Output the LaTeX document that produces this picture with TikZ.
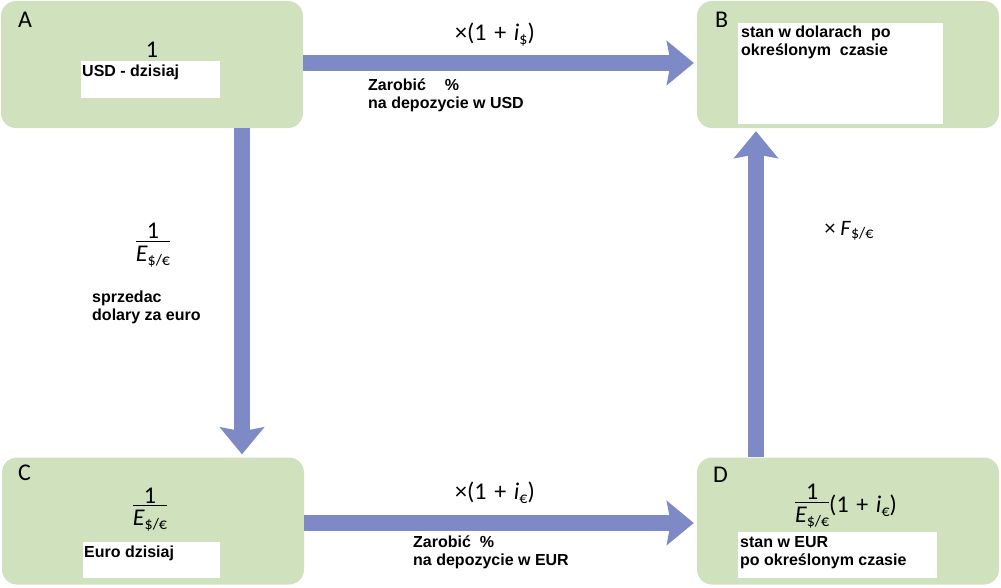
\documentclass[tikz,border=0pt]{standalone}
\usepackage{fontspec}
\setmainfont{Liberation Sans}
\newfontfamily\carlito{Carlito}
\usepackage{tikz}
\usetikzlibrary{arrows.meta,positioning,calc}
\definecolor{ParityGreen}{HTML}{CFE2BD}
\definecolor{ParityBlue}{HTML}{7E8AC5}
\newcommand\lowsub[1]{\raisebox{-0.35ex}{\fontsize{16}{16}\selectfont\upshape #1}}
\newcommand\plussign{\hspace{0.32em}+\hspace{0.32em}}
\newcommand\invrate{\ensuremath{\vcenter{\offinterlineskip\halign{\hfil##\hfil\cr 1\cr\noalign{\kern2pt\hrule height1.2pt\kern4pt}\itshape E\lowsub{\$/€}\cr}}}}

\begin{document}
\begin{tikzpicture}[x=1pt,y=-1pt,
    every node/.style={font=\bfseries\fontsize{16}{18}\selectfont,inner sep=0pt},
    box/.style={rounded corners=15pt,fill=ParityGreen,minimum width=302pt,minimum height=127pt},
    blank/.style={fill=white,anchor=north west},
    tag/.style={font=\carlito\fontsize{24}{26}\selectfont,anchor=base west},
    formula/.style={font=\carlito\fontsize{24}{26}\selectfont},
    note/.style={anchor=base west,align=left},
    flow/.style={ParityBlue,line width=16pt,shorten >=3pt,-{Stealth[width=44pt,length=27pt,inset=4pt]}}]
    \useasboundingbox (0,0) rectangle (1001,587);
    \node[box] (A) at (152,64.5) {};
    \node[box] (B) at (848,64.5) {};
    \node[box] (C) at (153,521) {};
    \node[box] (D) at (848,521) {};
    \draw[flow] ([yshift=1.5pt]A.east) -- ([yshift=1.5pt]B.west);
    \draw[flow] ([yshift=-2pt]C.east) -- ([yshift=-2pt]D.west);
    \draw[flow] ([xshift=90pt]A.south) -- ([xshift=89pt]C.north);
    \draw[flow] ([xshift=-92pt]D.north) -- ([xshift=-92pt]B.south);
    \node[tag] (tagA) at (18,27) {A};
    \node[tag] (tagB) at (715,27) {B};
    \node[tag] (tagC) at (18,480) {C};
    \node[tag] (tagD) at (713,482) {D};
    \node[formula,anchor=base] (amountA) at (152,57) {1};
    \node[formula] (amountC) at (150,509.5) {\invrate};
    \node[formula] (amountD) at (846,506) {\invrate(1\plussign\textit{i}\lowsub{€})};
    \node[blank,minimum width=139pt,minimum height=37pt] (blankA) at (81,61) {};
    \node[blank,minimum width=205pt,minimum height=101pt] (blankB) at (738,23) {};
    \node[blank,minimum width=137pt,minimum height=36pt] (blankC) at (83,542) {};
    \node[blank,minimum width=199pt,minimum height=46pt] (blankD) at (738,532) {};
    \node[note] (textA) at ([xshift=1pt,yshift=-15pt]blankA.north west) {USD - dzisiaj};
    \node[note] (textB) at ([xshift=3pt,yshift=-32pt]blankB.north west) {stan w dolarach\ \ po\\okre\'slonym\ \ czasie};
    \node[note] (textC) at ([xshift=1pt,yshift=-15pt]blankC.north west) {Euro dzisiaj};
    \node[note] (textD) at ([xshift=2pt,yshift=-33pt]blankD.north west) {stan w EUR\\po okre\'slonym czasie};
    \node[formula,anchor=base] (rateUSD) at (495,40) {×(1\plussign\textit{i}\lowsub{\$})};
    \node[formula,anchor=base] (rateEUR) at (495,499) {×(1\plussign\textit{i}\lowsub{€})};
    \node[formula] (spot) at (153,245) {\invrate};
    \node[formula,font=\carlito\fontsize{22}{24}\selectfont,anchor=base] (forward) at (849,235) {× \textit{F}\lowsub{\$/€}};
    \node[note] (earnUSD) at (368,108) {Zarobi\'c\hspace{19pt}\%\\na depozycie w USD};
    \node[note] (earnEUR) at (413,565) {Zarobi\'c\ \ \%\\na depozycie w EUR};
    \node[note] (sell) at (92,320) {sprzedac\\dolary za euro};
\end{tikzpicture}
\end{document}
